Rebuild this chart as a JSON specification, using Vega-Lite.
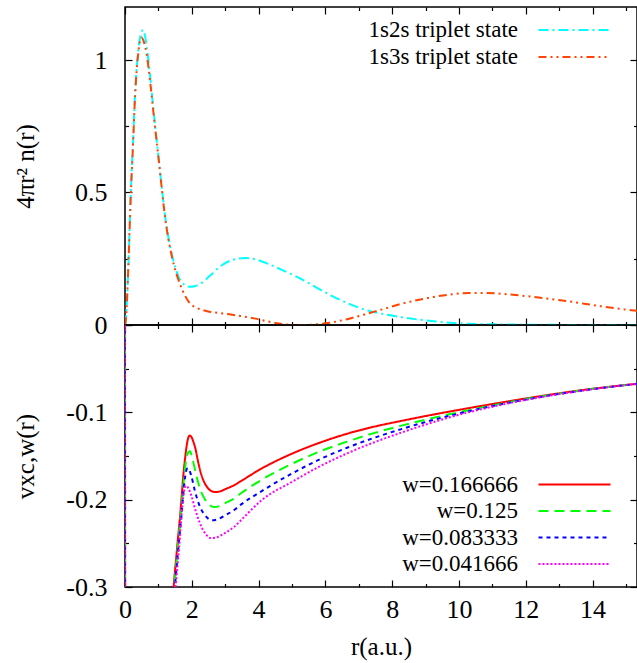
{
  "$schema": "https://vega.github.io/schema/vega-lite/v6.json",
  "padding": {"left": 12, "top": 5, "right": 0, "bottom": 2},
  "spacing": 0,
  "bounds": "flush",
  "resolve": {"scale": {"color": "independent", "strokeDash": "independent"}, "legend": {"color": "independent", "strokeDash": "independent"}},
  "config": {
    "font": "Liberation Serif",
    "view": {"stroke": "#000", "strokeWidth": 1.5},
    "axis": {"domain": false, "grid": false, "tickColor": "#000", "tickWidth": 1.2, "labelFont": "Liberation Serif", "labelFontSize": 26, "labelColor": "#000", "titleFont": "Liberation Serif", "titleFontSize": 25, "titleFontWeight": "normal", "titleColor": "#000"},
    "legend": {"labelFont": "Liberation Serif", "labelFontSize": 23, "labelColor": "#000"}
  },
  "datasets": {
    "top": [
      {"r": 0, "n": 0, "s": "1s2s triplet state"},
      {"r": 0.033, "n": 0.03, "s": "1s2s triplet state"},
      {"r": 0.066, "n": 0.11, "s": "1s2s triplet state"},
      {"r": 0.1, "n": 0.22, "s": "1s2s triplet state"},
      {"r": 0.165, "n": 0.47, "s": "1s2s triplet state"},
      {"r": 0.2, "n": 0.58, "s": "1s2s triplet state"},
      {"r": 0.23, "n": 0.66, "s": "1s2s triplet state"},
      {"r": 0.3, "n": 0.87, "s": "1s2s triplet state"},
      {"r": 0.4, "n": 1.04, "s": "1s2s triplet state"},
      {"r": 0.47, "n": 1.095, "s": "1s2s triplet state"},
      {"r": 0.54, "n": 1.113, "s": "1s2s triplet state"},
      {"r": 0.6, "n": 1.09, "s": "1s2s triplet state"},
      {"r": 0.65, "n": 1.05, "s": "1s2s triplet state"},
      {"r": 0.76, "n": 0.93, "s": "1s2s triplet state"},
      {"r": 0.87, "n": 0.79, "s": "1s2s triplet state"},
      {"r": 0.99, "n": 0.65, "s": "1s2s triplet state"},
      {"r": 1.06, "n": 0.566, "s": "1s2s triplet state"},
      {"r": 1.24, "n": 0.377, "s": "1s2s triplet state"},
      {"r": 1.41, "n": 0.263, "s": "1s2s triplet state"},
      {"r": 1.61, "n": 0.181, "s": "1s2s triplet state"},
      {"r": 1.8, "n": 0.15, "s": "1s2s triplet state"},
      {"r": 1.96, "n": 0.144, "s": "1s2s triplet state"},
      {"r": 2.1, "n": 0.147, "s": "1s2s triplet state"},
      {"r": 2.26, "n": 0.156, "s": "1s2s triplet state"},
      {"r": 2.56, "n": 0.188, "s": "1s2s triplet state"},
      {"r": 2.86, "n": 0.222, "s": "1s2s triplet state"},
      {"r": 3.2, "n": 0.245, "s": "1s2s triplet state"},
      {"r": 3.61, "n": 0.253, "s": "1s2s triplet state"},
      {"r": 3.9, "n": 0.248, "s": "1s2s triplet state"},
      {"r": 4.26, "n": 0.232, "s": "1s2s triplet state"},
      {"r": 4.75, "n": 0.205, "s": "1s2s triplet state"},
      {"r": 5.25, "n": 0.175, "s": "1s2s triplet state"},
      {"r": 5.75, "n": 0.14, "s": "1s2s triplet state"},
      {"r": 6.25, "n": 0.106, "s": "1s2s triplet state"},
      {"r": 6.75, "n": 0.078, "s": "1s2s triplet state"},
      {"r": 7.25, "n": 0.055, "s": "1s2s triplet state"},
      {"r": 7.75, "n": 0.041, "s": "1s2s triplet state"},
      {"r": 8.25, "n": 0.03, "s": "1s2s triplet state"},
      {"r": 8.75, "n": 0.021, "s": "1s2s triplet state"},
      {"r": 9.25, "n": 0.014, "s": "1s2s triplet state"},
      {"r": 10.25, "n": 0.005, "s": "1s2s triplet state"},
      {"r": 11.5, "n": 0.002, "s": "1s2s triplet state"},
      {"r": 13, "n": 0.0005, "s": "1s2s triplet state"},
      {"r": 15.33, "n": 0, "s": "1s2s triplet state"},
      {"r": 0, "n": 0, "s": "1s3s triplet state"},
      {"r": 0.033, "n": 0.03, "s": "1s3s triplet state"},
      {"r": 0.066, "n": 0.11, "s": "1s3s triplet state"},
      {"r": 0.1, "n": 0.22, "s": "1s3s triplet state"},
      {"r": 0.165, "n": 0.46, "s": "1s3s triplet state"},
      {"r": 0.2, "n": 0.57, "s": "1s3s triplet state"},
      {"r": 0.23, "n": 0.65, "s": "1s3s triplet state"},
      {"r": 0.3, "n": 0.86, "s": "1s3s triplet state"},
      {"r": 0.4, "n": 1.03, "s": "1s3s triplet state"},
      {"r": 0.49, "n": 1.085, "s": "1s3s triplet state"},
      {"r": 0.56, "n": 1.07, "s": "1s3s triplet state"},
      {"r": 0.65, "n": 1.02, "s": "1s3s triplet state"},
      {"r": 0.76, "n": 0.91, "s": "1s3s triplet state"},
      {"r": 0.87, "n": 0.78, "s": "1s3s triplet state"},
      {"r": 0.99, "n": 0.645, "s": "1s3s triplet state"},
      {"r": 1.24, "n": 0.37, "s": "1s3s triplet state"},
      {"r": 1.41, "n": 0.255, "s": "1s3s triplet state"},
      {"r": 1.66, "n": 0.15, "s": "1s3s triplet state"},
      {"r": 1.8, "n": 0.11, "s": "1s3s triplet state"},
      {"r": 1.91, "n": 0.087, "s": "1s3s triplet state"},
      {"r": 2.16, "n": 0.064, "s": "1s3s triplet state"},
      {"r": 2.46, "n": 0.052, "s": "1s3s triplet state"},
      {"r": 2.96, "n": 0.043, "s": "1s3s triplet state"},
      {"r": 3.46, "n": 0.034, "s": "1s3s triplet state"},
      {"r": 3.9, "n": 0.024, "s": "1s3s triplet state"},
      {"r": 4.26, "n": 0.014, "s": "1s3s triplet state"},
      {"r": 4.6, "n": 0.006, "s": "1s3s triplet state"},
      {"r": 4.86, "n": 0.002, "s": "1s3s triplet state"},
      {"r": 5.3, "n": 0, "s": "1s3s triplet state"},
      {"r": 5.55, "n": 0.001, "s": "1s3s triplet state"},
      {"r": 6.15, "n": 0.009, "s": "1s3s triplet state"},
      {"r": 6.65, "n": 0.022, "s": "1s3s triplet state"},
      {"r": 7.15, "n": 0.039, "s": "1s3s triplet state"},
      {"r": 7.7, "n": 0.059, "s": "1s3s triplet state"},
      {"r": 8.25, "n": 0.079, "s": "1s3s triplet state"},
      {"r": 9.25, "n": 0.106, "s": "1s3s triplet state"},
      {"r": 9.8, "n": 0.116, "s": "1s3s triplet state"},
      {"r": 10.34, "n": 0.121, "s": "1s3s triplet state"},
      {"r": 10.8, "n": 0.121, "s": "1s3s triplet state"},
      {"r": 11.24, "n": 0.118, "s": "1s3s triplet state"},
      {"r": 12.24, "n": 0.106, "s": "1s3s triplet state"},
      {"r": 13.24, "n": 0.09, "s": "1s3s triplet state"},
      {"r": 14.24, "n": 0.071, "s": "1s3s triplet state"},
      {"r": 15.23, "n": 0.055, "s": "1s3s triplet state"},
      {"r": 15.33, "n": 0.054, "s": "1s3s triplet state"}
    ],
    "bottom": [
      {"r": 0, "v": 0.05, "w": "w=0.166666"},
      {"r": 0.02, "v": -2, "w": "w=0.166666"},
      {"r": 0.8, "v": -0.9, "w": "w=0.166666"},
      {"r": 1.2, "v": -0.45, "w": "w=0.166666"},
      {"r": 1.46, "v": -0.298, "w": "w=0.166666"},
      {"r": 1.56, "v": -0.255, "w": "w=0.166666"},
      {"r": 1.66, "v": -0.214, "w": "w=0.166666"},
      {"r": 1.74, "v": -0.175, "w": "w=0.166666"},
      {"r": 1.81, "v": -0.149, "w": "w=0.166666"},
      {"r": 1.87, "v": -0.133, "w": "w=0.166666"},
      {"r": 1.94, "v": -0.1264, "w": "w=0.166666"},
      {"r": 2.0, "v": -0.129, "w": "w=0.166666"},
      {"r": 2.05, "v": -0.134, "w": "w=0.166666"},
      {"r": 2.11, "v": -0.1417, "w": "w=0.166666"},
      {"r": 2.18, "v": -0.155, "w": "w=0.166666"},
      {"r": 2.26, "v": -0.168, "w": "w=0.166666"},
      {"r": 2.36, "v": -0.179, "w": "w=0.166666"},
      {"r": 2.46, "v": -0.1856, "w": "w=0.166666"},
      {"r": 2.58, "v": -0.19, "w": "w=0.166666"},
      {"r": 2.71, "v": -0.1913, "w": "w=0.166666"},
      {"r": 2.85, "v": -0.1905, "w": "w=0.166666"},
      {"r": 3.0, "v": -0.188, "w": "w=0.166666"},
      {"r": 3.26, "v": -0.1836, "w": "w=0.166666"},
      {"r": 3.46, "v": -0.179, "w": "w=0.166666"},
      {"r": 4.06, "v": -0.165, "w": "w=0.166666"},
      {"r": 5.05, "v": -0.1465, "w": "w=0.166666"},
      {"r": 5.85, "v": -0.1345, "w": "w=0.166666"},
      {"r": 6.65, "v": -0.1245, "w": "w=0.166666"},
      {"r": 7.45, "v": -0.1165, "w": "w=0.166666"},
      {"r": 8.25, "v": -0.11, "w": "w=0.166666"},
      {"r": 9.1, "v": -0.1035, "w": "w=0.166666"},
      {"r": 9.95, "v": -0.0975, "w": "w=0.166666"},
      {"r": 10.95, "v": -0.0908, "w": "w=0.166666"},
      {"r": 11.94, "v": -0.0845, "w": "w=0.166666"},
      {"r": 13.5, "v": -0.0755, "w": "w=0.166666"},
      {"r": 15.33, "v": -0.0673, "w": "w=0.166666"},
      {"r": 0, "v": 0.05, "w": "w=0.125"},
      {"r": 0.02, "v": -2, "w": "w=0.125"},
      {"r": 0.8, "v": -0.92, "w": "w=0.125"},
      {"r": 1.2, "v": -0.47, "w": "w=0.125"},
      {"r": 1.48, "v": -0.298, "w": "w=0.125"},
      {"r": 1.58, "v": -0.255, "w": "w=0.125"},
      {"r": 1.68, "v": -0.214, "w": "w=0.125"},
      {"r": 1.76, "v": -0.178, "w": "w=0.125"},
      {"r": 1.83, "v": -0.155, "w": "w=0.125"},
      {"r": 1.89, "v": -0.146, "w": "w=0.125"},
      {"r": 1.95, "v": -0.1447, "w": "w=0.125"},
      {"r": 2.0, "v": -0.15, "w": "w=0.125"},
      {"r": 2.08, "v": -0.163, "w": "w=0.125"},
      {"r": 2.16, "v": -0.176, "w": "w=0.125"},
      {"r": 2.28, "v": -0.191, "w": "w=0.125"},
      {"r": 2.4, "v": -0.2, "w": "w=0.125"},
      {"r": 2.53, "v": -0.206, "w": "w=0.125"},
      {"r": 2.66, "v": -0.2085, "w": "w=0.125"},
      {"r": 2.85, "v": -0.207, "w": "w=0.125"},
      {"r": 3.0, "v": -0.204, "w": "w=0.125"},
      {"r": 3.26, "v": -0.199, "w": "w=0.125"},
      {"r": 3.46, "v": -0.193, "w": "w=0.125"},
      {"r": 4.06, "v": -0.178, "w": "w=0.125"},
      {"r": 5.05, "v": -0.158, "w": "w=0.125"},
      {"r": 5.85, "v": -0.1445, "w": "w=0.125"},
      {"r": 6.65, "v": -0.1335, "w": "w=0.125"},
      {"r": 7.45, "v": -0.1238, "w": "w=0.125"},
      {"r": 8.25, "v": -0.1155, "w": "w=0.125"},
      {"r": 9.1, "v": -0.1075, "w": "w=0.125"},
      {"r": 9.95, "v": -0.1003, "w": "w=0.125"},
      {"r": 10.95, "v": -0.0925, "w": "w=0.125"},
      {"r": 11.94, "v": -0.0852, "w": "w=0.125"},
      {"r": 13.5, "v": -0.0758, "w": "w=0.125"},
      {"r": 15.33, "v": -0.0673, "w": "w=0.125"},
      {"r": 0, "v": 0.05, "w": "w=0.083333"},
      {"r": 0.02, "v": -2, "w": "w=0.083333"},
      {"r": 0.8, "v": -0.94, "w": "w=0.083333"},
      {"r": 1.2, "v": -0.49, "w": "w=0.083333"},
      {"r": 1.5, "v": -0.298, "w": "w=0.083333"},
      {"r": 1.6, "v": -0.255, "w": "w=0.083333"},
      {"r": 1.7, "v": -0.214, "w": "w=0.083333"},
      {"r": 1.78, "v": -0.18, "w": "w=0.083333"},
      {"r": 1.84, "v": -0.166, "w": "w=0.083333"},
      {"r": 1.88, "v": -0.1638, "w": "w=0.083333"},
      {"r": 1.98, "v": -0.172, "w": "w=0.083333"},
      {"r": 2.08, "v": -0.188, "w": "w=0.083333"},
      {"r": 2.16, "v": -0.199, "w": "w=0.083333"},
      {"r": 2.28, "v": -0.211, "w": "w=0.083333"},
      {"r": 2.4, "v": -0.218, "w": "w=0.083333"},
      {"r": 2.61, "v": -0.2237, "w": "w=0.083333"},
      {"r": 2.8, "v": -0.222, "w": "w=0.083333"},
      {"r": 3.0, "v": -0.218, "w": "w=0.083333"},
      {"r": 3.3, "v": -0.211, "w": "w=0.083333"},
      {"r": 3.46, "v": -0.206, "w": "w=0.083333"},
      {"r": 4.06, "v": -0.191, "w": "w=0.083333"},
      {"r": 5.05, "v": -0.169, "w": "w=0.083333"},
      {"r": 5.85, "v": -0.1535, "w": "w=0.083333"},
      {"r": 6.65, "v": -0.1405, "w": "w=0.083333"},
      {"r": 7.45, "v": -0.1293, "w": "w=0.083333"},
      {"r": 8.25, "v": -0.1195, "w": "w=0.083333"},
      {"r": 9.1, "v": -0.11, "w": "w=0.083333"},
      {"r": 9.95, "v": -0.1018, "w": "w=0.083333"},
      {"r": 10.95, "v": -0.0932, "w": "w=0.083333"},
      {"r": 11.94, "v": -0.0858, "w": "w=0.083333"},
      {"r": 13.5, "v": -0.076, "w": "w=0.083333"},
      {"r": 15.33, "v": -0.0673, "w": "w=0.083333"},
      {"r": 0, "v": 0.05, "w": "w=0.041666"},
      {"r": 0.02, "v": -2, "w": "w=0.041666"},
      {"r": 0.8, "v": -0.96, "w": "w=0.041666"},
      {"r": 1.2, "v": -0.51, "w": "w=0.041666"},
      {"r": 1.52, "v": -0.298, "w": "w=0.041666"},
      {"r": 1.62, "v": -0.255, "w": "w=0.041666"},
      {"r": 1.7, "v": -0.215, "w": "w=0.041666"},
      {"r": 1.76, "v": -0.192, "w": "w=0.041666"},
      {"r": 1.82, "v": -0.184, "w": "w=0.041666"},
      {"r": 1.9, "v": -0.187, "w": "w=0.041666"},
      {"r": 2.0, "v": -0.197, "w": "w=0.041666"},
      {"r": 2.08, "v": -0.208, "w": "w=0.041666"},
      {"r": 2.16, "v": -0.218, "w": "w=0.041666"},
      {"r": 2.3, "v": -0.232, "w": "w=0.041666"},
      {"r": 2.43, "v": -0.24, "w": "w=0.041666"},
      {"r": 2.56, "v": -0.244, "w": "w=0.041666"},
      {"r": 2.75, "v": -0.243, "w": "w=0.041666"},
      {"r": 3.0, "v": -0.238, "w": "w=0.041666"},
      {"r": 3.26, "v": -0.2314, "w": "w=0.041666"},
      {"r": 3.46, "v": -0.224, "w": "w=0.041666"},
      {"r": 4.06, "v": -0.2016, "w": "w=0.041666"},
      {"r": 5.05, "v": -0.1785, "w": "w=0.041666"},
      {"r": 5.85, "v": -0.1615, "w": "w=0.041666"},
      {"r": 6.65, "v": -0.147, "w": "w=0.041666"},
      {"r": 7.45, "v": -0.1345, "w": "w=0.041666"},
      {"r": 8.25, "v": -0.1235, "w": "w=0.041666"},
      {"r": 9.1, "v": -0.1128, "w": "w=0.041666"},
      {"r": 9.95, "v": -0.1033, "w": "w=0.041666"},
      {"r": 10.95, "v": -0.094, "w": "w=0.041666"},
      {"r": 11.94, "v": -0.0862, "w": "w=0.041666"},
      {"r": 13.5, "v": -0.0763, "w": "w=0.041666"},
      {"r": 15.33, "v": -0.0673, "w": "w=0.041666"}
    ]
  },
  "vconcat": [
    {
      "width": 512,
      "height": 318,
      "data": {"name": "top"},
      "layer": [
        {
          "mark": {"type": "line", "clip": true, "strokeWidth": 2, "interpolate": "monotone"},
          "encoding": {
            "x": {"field": "r", "type": "quantitative", "scale": {"domain": [0, 15.33], "nice": false, "zero": false},
              "axis": {"orient": "bottom", "values": [0,1,2,3,4,5,6,7,8,9,10,11,12,13,14,15], "labels": false, "title": null,
                "tickSize": {"condition": {"test": "datum.value % 2 === 0", "value": -7}, "value": -3.5}}},
            "y": {"field": "n", "type": "quantitative", "scale": {"domain": [0, 1.2], "nice": false},
              "axis": {"orient": "left", "values": [0, 0.25, 0.5, 0.75, 1], "format": "~g",
                "labelExpr": "round(datum.value*4) % 2 === 0 ? datum.label : ''",
                "labelFont": "Liberation Serif", "titleFont": "Liberation Serif",
                "tickSize": {"condition": {"test": "round(datum.value*4) % 2 === 0", "value": -7}, "value": -3.5},
                "labelPadding": 25, "minExtent": 64, "maxExtent": 64, "titlePadding": 23, "title": "4πr² n(r)"}},
            "color": {"field": "s", "type": "nominal",
              "scale": {"domain": ["1s2s triplet state", "1s3s triplet state"], "range": ["#00ffff", "#ff4500"]},
              "legend": {"title": null, "orient": "none", "legendX": 438, "legendY": 11.5, "symbolType": "M-4,0H4", "symbolSize": 324, "symbolStrokeWidth": 2, "labelAlign": "right", "labelOffset": -68, "padding": 0, "rowPadding": 3, "labelLimit": 400}},
            "strokeDash": {"field": "s", "type": "nominal",
              "scale": {"domain": ["1s2s triplet state", "1s3s triplet state"], "range": [[10, 4, 2, 4], [8, 4, 2, 4, 2, 4]]},
              "legend": {"title": null, "orient": "none", "legendX": 438, "legendY": 11.5, "symbolType": "M-4,0H4", "symbolSize": 324, "symbolStrokeWidth": 2, "labelAlign": "right", "labelOffset": -68, "padding": 0, "rowPadding": 3, "labelLimit": 400}}
          }
        },
        {
          "mark": {"type": "line", "opacity": 0},
          "encoding": {
            "x": {"field": "r", "type": "quantitative",
              "axis": {"orient": "top", "values": [0,1,2,3,4,5,6,7,8,9,10,11,12,13,14,15], "labels": false, "title": null,
                "tickSize": {"condition": {"test": "datum.value % 2 === 0", "value": -7}, "value": -3.5}}},
            "y": {"field": "n", "type": "quantitative",
              "axis": {"orient": "right", "values": [0, 0.25, 0.5, 0.75, 1], "labels": false, "title": null,
                "tickSize": {"condition": {"test": "round(datum.value*4) % 2 === 0", "value": -7}, "value": -3.5}}},
            "detail": {"field": "s"}
          }
        }
      ],
      "resolve": {"axis": {"x": "independent", "y": "independent"}}
    },
    {
      "width": 512,
      "height": 262,
      "data": {"name": "bottom"},
      "layer": [
        {
          "mark": {"type": "line", "clip": true, "strokeWidth": 2, "interpolate": "monotone"},
          "encoding": {
            "x": {"field": "r", "type": "quantitative", "scale": {"domain": [0, 15.33], "nice": false, "zero": false},
              "axis": {"orient": "bottom", "values": [0,1,2,3,4,5,6,7,8,9,10,11,12,13,14,15],
                "labelExpr": "datum.value % 2 === 0 ? datum.label : ''", "labelFlush": false, "labelPadding": 16, "titlePadding": 12, "title": "r(a.u.)",
                "labelFont": "Liberation Serif", "titleFont": "Liberation Serif",
                "tickSize": {"condition": {"test": "datum.value % 2 === 0", "value": -7}, "value": -3.5}}},
            "y": {"field": "v", "type": "quantitative", "scale": {"domain": [-0.3, 0], "nice": false, "zero": false},
              "axis": {"orient": "left", "values": [-0.3, -0.25, -0.2, -0.15, -0.1, -0.05, 0], "format": "~g",
                "labelExpr": "round(datum.value*20) % 2 === 0 && datum.value !== 0 ? replace(datum.label, '\u2212', '-') : ''",
                "labelFont": "Liberation Serif", "titleFont": "Liberation Serif",
                "tickSize": {"condition": {"test": "round(datum.value*20) % 2 === 0", "value": -7}, "value": -3.5},
                "labelPadding": 25, "minExtent": 64, "maxExtent": 64, "titlePadding": 23, "title": "vxc,w(r)"}},
            "color": {"field": "w", "type": "nominal",
              "scale": {"domain": ["w=0.166666", "w=0.125", "w=0.083333", "w=0.041666"], "range": ["#ff0000", "#00ff00", "#0000ff", "#ff00ff"]},
              "legend": {"title": null, "orient": "none", "legendX": 438, "legendY": 148, "symbolType": "M-4,0H4", "symbolSize": 324, "symbolStrokeWidth": 2, "labelAlign": "right", "labelOffset": -68, "padding": 0, "rowPadding": 2.5, "labelLimit": 400}},
            "strokeDash": {"field": "w", "type": "nominal",
              "scale": {"domain": ["w=0.166666", "w=0.125", "w=0.083333", "w=0.041666"], "range": [[1, 0], [10, 6], [4, 4], [2, 2]]},
              "legend": {"title": null, "orient": "none", "legendX": 438, "legendY": 148, "symbolType": "M-4,0H4", "symbolSize": 324, "symbolStrokeWidth": 2, "labelAlign": "right", "labelOffset": -68, "padding": 0, "rowPadding": 2.5, "labelLimit": 400}}
          }
        },
        {
          "mark": {"type": "line", "opacity": 0},
          "encoding": {
            "x": {"field": "r", "type": "quantitative",
              "axis": {"orient": "top", "values": [0,1,2,3,4,5,6,7,8,9,10,11,12,13,14,15], "labels": false, "title": null,
                "tickSize": {"condition": {"test": "datum.value % 2 === 0", "value": -7}, "value": -3.5}}},
            "y": {"field": "v", "type": "quantitative",
              "axis": {"orient": "right", "values": [-0.3, -0.25, -0.2, -0.15, -0.1, -0.05, 0], "labels": false, "title": null,
                "tickSize": {"condition": {"test": "round(datum.value*20) % 2 === 0", "value": -7}, "value": -3.5}}},
            "detail": {"field": "w"}
          }
        }
      ],
      "resolve": {"axis": {"x": "independent", "y": "independent"}}
    }
  ]
}
